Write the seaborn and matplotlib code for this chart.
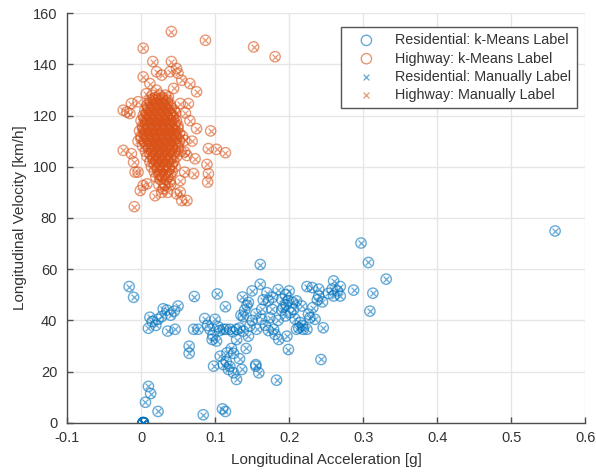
import numpy as np
import pandas as pd
import matplotlib
matplotlib.use("Agg")
import matplotlib.pyplot as plt
import seaborn as sns

# ---------------- data ----------------
res_x = [-0.016, -0.010, 0.010, 0.012, 0.023, 0.035, 0.036, 0.046, 0.045, 0.050,
         0.072, 0.071, 0.077, 0.065, 0.065, 0.086, 0.103, 0.100, 0.093, 0.096,
         0.102, 0.114, 0.107, 0.116, 0.125, 0.098, 0.111, 0.118, 0.125, 0.129,
         0.136, 0.111, 0.120, 0.129, 0.138, 0.129, 0.142, 0.137, 0.143, 0.138,
         0.147, 0.145, 0.150, 0.161, 0.161, 0.163, 0.163, 0.156, 0.170, 0.172,
         0.177, 0.174, 0.179, 0.181, 0.186, 0.155, 0.159, 0.183, 0.190, 0.192,
         0.195, 0.200, 0.199, 0.206, 0.210, 0.197, 0.199, 0.217, 0.215, 0.219,
         0.224, 0.224, 0.231, 0.240, 0.240, 0.245, 0.232, 0.226, 0.235, 0.246,
         0.243, 0.260, 0.258, 0.269, 0.260, 0.269, 0.287, 0.297, 0.307, 0.331,
         0.313, 0.309, 0.010, 0.013, 0.006, 0.023, 0.084, 0.110, 0.114, 0.155,
         0.559,
         0.003, 0.003, 0.003, 0.003, 0.003, 0.003, 0.003, 0.003,
         0.015, 0.020, 0.028, 0.040, 0.030, 0.104, 0.106, 0.115, 0.124, 0.133,
         0.097, 0.150, 0.155, 0.168, 0.172, 0.185, 0.190, 0.196, 0.202, 0.205,
         0.195, 0.208, 0.213, 0.218, 0.210, 0.165, 0.178, 0.185, 0.145, 0.135,
         0.090, 0.115, 0.120, 0.122, 0.133, 0.140, 0.253, 0.265, 0.238, 0.228]
res_y = [53.2, 49.0, 36.9, 41.2, 40.4, 44.0, 35.8, 36.5, 43.6, 45.6,
         49.3, 36.5, 36.5, 29.9, 27.1, 40.7, 50.3, 40.4, 36.5, 32.5,
         31.9, 45.3, 26.0, 27.3, 27.1, 22.1, 22.7, 20.8, 19.5, 16.9,
         20.8, 36.5, 36.5, 36.5, 35.8, 32.5, 29.0, 49.1, 45.9, 41.4,
         37.8, 33.8, 51.5, 61.8, 54.1, 44.3, 40.4, 36.5, 50.8, 47.6,
         44.3, 41.0, 36.5, 34.5, 32.5, 22.1, 19.5, 16.6, 48.2, 45.0,
         41.7, 51.5, 47.6, 44.3, 47.6, 33.8, 28.6, 45.6, 39.1, 36.5,
         36.5, 53.2, 52.8, 52.2, 49.5, 47.2, 45.0, 42.4, 40.4, 37.1,
         24.7, 55.4, 52.2, 53.2, 49.5, 49.5, 51.8, 70.2, 62.6, 56.1,
         50.6, 43.6, 14.2, 11.4, 8.0, 4.4, 3.1, 5.4, 4.4, 22.7,
         74.9,
         0.0, 0.0, 0.0, 0.0, 0.0, 0.0, 0.0, 0.0,
         39.5, 38.0, 41.5, 42.0, 44.5, 37.5, 36.0, 36.5, 35.5, 37.0,
         34.0, 40.0, 42.5, 38.0, 36.0, 40.0, 44.0, 46.0, 43.0, 47.0,
         50.0, 40.5, 37.0, 38.0, 36.5, 48.0, 49.0, 52.0, 47.0, 42.0,
         38.0, 24.0, 22.0, 29.0, 25.0, 44.0, 50.5, 51.5, 48.0, 41.0]

hwy_x = [0.041, 0.003, 0.087, 0.152, 0.181, 0.016, 0.041, 0.021, 0.028, 0.039,
         0.048, 0.050, 0.003, 0.012, 0.055, 0.066, 0.075, 0.044, 0.021, 0.053,
         0.064, 0.037, -0.013, -0.004, -0.024, -0.015, 0.075, 0.094, 0.091, 0.102,
         0.114, 0.089, 0.091, 0.090, -0.024, -0.013, -0.010, -0.004, -0.001, -0.009,
         0.008, 0.019, 0.030, 0.048, 0.055, 0.062, 0.071, 0.059, 0.053, 0.073,
         0.062, 0.039, 0.026, -0.019, -0.008, 0.003, 0.032, 0.053, 0.059, 0.059,
         0.069, 0.066, 0.060, 0.007,
         # dense core
         0.015, 0.025, 0.033,
         0.012, 0.020, 0.028, 0.036,
         0.008, 0.016, 0.024, 0.032, 0.040,
         0.005, 0.013, 0.021, 0.029, 0.037, 0.045,
         0.003, 0.011, 0.019, 0.027, 0.035, 0.043,
         0.000, 0.008, 0.016, 0.024, 0.032, 0.040, 0.048,
         0.002, 0.010, 0.018, 0.026, 0.034, 0.042, 0.050,
         -0.002, 0.006, 0.014, 0.022, 0.030, 0.038, 0.046,
         0.000, 0.008, 0.016, 0.024, 0.032, 0.040, 0.048, 0.056,
         -0.004, 0.004, 0.012, 0.020, 0.028, 0.036, 0.044, 0.052,
         0.002, 0.010, 0.018, 0.026, 0.034, 0.042, 0.050,
         0.006, 0.014, 0.022, 0.030, 0.038, 0.046, 0.054,
         0.008, 0.016, 0.024, 0.032, 0.040, 0.048,
         0.012, 0.020, 0.028, 0.036, 0.044,
         0.014, 0.022, 0.030, 0.038, 0.046,
         0.018, 0.026, 0.034, 0.042,
         0.020, 0.028, 0.036,
         0.024, 0.032, 0.040,
         0.028, 0.036,
         # core, in-between rows
         0.019, 0.029,
         0.012, 0.020, 0.028, 0.036,
         0.009, 0.017, 0.025, 0.033, 0.041,
         0.007, 0.015, 0.023, 0.031, 0.039, 0.047,
         0.004, 0.012, 0.020, 0.028, 0.036, 0.044,
         0.006, 0.014, 0.022, 0.030, 0.038, 0.046,
         0.002, 0.010, 0.018, 0.026, 0.034, 0.042, 0.050,
         0.004, 0.012, 0.020, 0.028, 0.036, 0.044, 0.052,
         0.000, 0.008, 0.016, 0.024, 0.032, 0.040, 0.048,
         0.006, 0.014, 0.022, 0.030, 0.038, 0.046,
         0.010, 0.018, 0.026, 0.034, 0.042, 0.050,
         0.012, 0.020, 0.028, 0.036, 0.044,
         0.016, 0.024, 0.032, 0.040,
         0.018, 0.026, 0.034, 0.042,
         0.022, 0.030, 0.038,
         0.024, 0.032, 0.040,
         0.026, 0.034,
         # innermost core
         0.016, 0.024,
         0.014, 0.022, 0.030,
         0.010, 0.018, 0.026, 0.034,
         0.008, 0.016, 0.024, 0.032, 0.040,
         0.006, 0.014, 0.022, 0.030, 0.038,
         0.008, 0.016, 0.024, 0.032, 0.040,
         0.004, 0.012, 0.020, 0.028, 0.036, 0.044,
         0.006, 0.014, 0.022, 0.030, 0.038, 0.046,
         0.010, 0.018, 0.026, 0.034, 0.042,
         0.012, 0.020, 0.028, 0.036,
         0.016, 0.024, 0.032, 0.040,
         0.018, 0.026, 0.034,
         0.020, 0.028, 0.036,
         0.024, 0.032]
hwy_y = [152.8, 146.3, 149.4, 146.8, 143.0, 141.1, 141.1, 137.1, 135.8, 137.1,
         138.4, 136.5, 135.1, 132.5, 133.8, 132.5, 129.3, 130.6, 129.9, 124.7,
         124.7, 127.3, 124.7, 125.4, 122.1, 120.8, 114.9, 114.0, 107.1, 106.8,
         105.5, 100.9, 97.3, 94.0, 106.4, 105.1, 101.8, 97.9, 90.7, 84.4,
         93.3, 88.7, 91.4, 89.4, 86.8, 86.8, 97.3, 97.9, 94.6, 103.1,
         104.4, 94.0, 96.6, 121.4, 97.9, 92.7, 92.7, 90.1, 110.3, 105.8,
         110.0, 118.0, 121.0, 128.5,
         128, 128, 128,
         126, 126, 126, 126,
         124, 124, 124, 124, 124,
         122, 122, 122, 122, 122, 122,
         120, 120, 120, 120, 120, 120,
         118, 118, 118, 118, 118, 118, 118,
         116, 116, 116, 116, 116, 116, 116,
         114, 114, 114, 114, 114, 114, 114,
         112, 112, 112, 112, 112, 112, 112, 112,
         110, 110, 110, 110, 110, 110, 110, 110,
         108, 108, 108, 108, 108, 108, 108,
         106, 106, 106, 106, 106, 106, 106,
         104, 104, 104, 104, 104, 104,
         102, 102, 102, 102, 102,
         100, 100, 100, 100, 100,
         98, 98, 98, 98,
         96, 96, 96,
         93, 93, 93,
         90, 90,
         127, 127,
         125, 125, 125, 125,
         123, 123, 123, 123, 123,
         121, 121, 121, 121, 121, 121,
         119, 119, 119, 119, 119, 119,
         117, 117, 117, 117, 117, 117,
         115, 115, 115, 115, 115, 115, 115,
         113, 113, 113, 113, 113, 113, 113,
         111, 111, 111, 111, 111, 111, 111,
         109, 109, 109, 109, 109, 109,
         107, 107, 107, 107, 107, 107,
         105, 105, 105, 105, 105,
         103, 103, 103, 103,
         101, 101, 101, 101,
         99, 99, 99,
         97, 97, 97,
         95, 95,
         126.5, 126.5,
         124.5, 124.5, 124.5,
         122.5, 122.5, 122.5, 122.5,
         120.5, 120.5, 120.5, 120.5, 120.5,
         118.5, 118.5, 118.5, 118.5, 118.5,
         116.5, 116.5, 116.5, 116.5, 116.5,
         114.5, 114.5, 114.5, 114.5, 114.5, 114.5,
         112.5, 112.5, 112.5, 112.5, 112.5, 112.5,
         110.5, 110.5, 110.5, 110.5, 110.5,
         108.5, 108.5, 108.5, 108.5,
         106.5, 106.5, 106.5, 106.5,
         104.5, 104.5, 104.5,
         102.5, 102.5, 102.5,
         100.5, 100.5]

xtick_vals = [-0.1, 0.0, 0.1, 0.2, 0.3, 0.4, 0.5, 0.6]
xtick_labels = ['-0.1', '0', '0.1', '0.2', '0.3', '0.4', '0.5', '0.6']
ytick_vals = [0, 20, 40, 60, 80, 100, 120, 140, 160]
ytick_labels = ['0', '20', '40', '60', '80', '100', '120', '140', '160']

labels = ['Residential: k-Means Label', 'Highway: k-Means Label',
          'Residential: Manually Label', 'Highway: Manually Label']

# ---------------- style ----------------
sns.set_style("whitegrid")
plt.rcParams['font.family'] = ['Liberation Sans', 'DejaVu Sans']

BLUE = '#0072BD'
ORANGE = '#D95319'
AXC = '#4d4d4d'
TXT = '#333333'

fig = plt.figure(figsize=(5.96, 4.74), dpi=100)
ax = fig.add_axes([0.1123, 0.1082, 0.870, 0.864])

res = pd.DataFrame({'x': res_x, 'y': res_y})
hwy = pd.DataFrame({'x': hwy_x, 'y': hwy_y})

sns.scatterplot(data=res, x='x', y='y', marker='o', s=55, color=BLUE,
                facecolor='none', edgecolor=BLUE, linewidth=1.0, alpha=0.6,
                label=labels[0], ax=ax, zorder=3)
sns.scatterplot(data=hwy, x='x', y='y', marker='o', s=55, color=ORANGE,
                facecolor='none', edgecolor=ORANGE, linewidth=1.0, alpha=0.6,
                label=labels[1], ax=ax, zorder=3)
sns.scatterplot(data=res, x='x', y='y', marker='x', s=18, color=BLUE,
                linewidth=0.9, alpha=0.6, label=labels[2], ax=ax, zorder=4)
sns.scatterplot(data=hwy, x='x', y='y', marker='x', s=18, color=ORANGE,
                linewidth=0.9, alpha=0.6, label=labels[3], ax=ax, zorder=4)

ax.set_xlim(-0.1, 0.6)
ax.set_ylim(0, 160)
ax.set_xticks(xtick_vals, xtick_labels)
ax.set_yticks(ytick_vals, ytick_labels)

ax.grid(True, color='#e6e6e6', linewidth=1.0)
ax.set_axisbelow(True)
for s in ['top', 'right']:
    ax.spines[s].set_visible(False)
for s in ['left', 'bottom']:
    ax.spines[s].set_visible(True)
    ax.spines[s].set_color(AXC)
    ax.spines[s].set_linewidth(1.0)
ax.tick_params(axis='both', direction='in', length=4, width=1, color=AXC,
               labelcolor=TXT, labelsize=10.5, left=True, bottom=True)
ax.tick_params(axis='x', pad=6)
ax.tick_params(axis='y', pad=7)

ax.set_xlabel('Longitudinal Acceleration [g]', fontsize=11, color=TXT, labelpad=6)
ax.set_ylabel('Longitudinal Velocity [km/h]', fontsize=11, color=TXT, labelpad=4)

leg = ax.legend(loc='upper right', bbox_to_anchor=(0.983, 0.966), fontsize=10.4,
                frameon=True, fancybox=False, framealpha=1, edgecolor='#555555',
                borderpad=0.42, labelspacing=0.3, handlelength=2.7,
                handletextpad=0.6, borderaxespad=0)
leg.get_frame().set_linewidth(1.0)
for t in leg.get_texts():
    t.set_color(TXT)

fig.savefig('out.png', dpi=100)
